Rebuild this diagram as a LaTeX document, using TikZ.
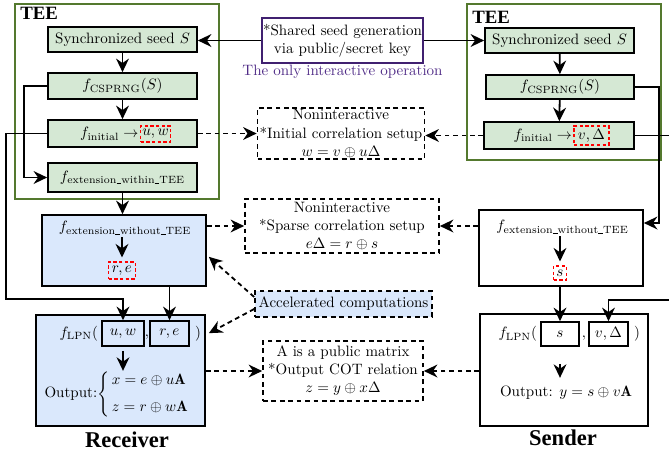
\documentclass[tikz,border=0pt]{standalone}
\usepackage{fontspec}
\newfontfamily\sidefont{Liberation Serif}
\usetikzlibrary{arrows.meta,calc}
\newcommand\pxu{0.665pt}
% short underscore for long subscripts
\newcommand\usc{\rule[-0.2pt]{3.2pt}{0.4pt}}
\definecolor{teegreen}{RGB}{84,121,46}
\definecolor{stepgreen}{HTML}{D5E8D4}
\definecolor{stepblue}{HTML}{DAE8FC}
\definecolor{keypurple}{RGB}{64,32,112}
\definecolor{notepurple}{RGB}{80,44,135}
\tikzset{
  sz/.style 2 args={minimum width=#1*\pxu, minimum height=#2*\pxu},
  base/.style={draw, line width=1.1pt, inner sep=0pt, align=center},
  gbox/.style={base, fill=stepgreen},
  bbox/.style={base, fill=stepblue},
  wbox/.style={base, fill=white},
  notebox/.style={base, dash pattern=on 3.2pt off 2.4pt, fill=white},
  redbox/.style={draw=red, line width=1pt, dash pattern=on 2.2pt off 1.6pt, inner sep=0pt},
  teebox/.style={draw=teegreen, line width=1.2pt},
  arr/.style={-{Stealth[length=9pt,width=8.5pt]}, line width=1.2pt},
  darr/.style={arr, dash pattern=on 3.2pt off 2.4pt},
  plain/.style={inner sep=0pt},
  teelbl/.style={plain, anchor=base west, font=\sidefont\bfseries\fontsize{12.5}{14}\selectfont},
  sidelbl/.style={plain, anchor=base, font=\sidefont\bfseries\fontsize{15}{18}\selectfont},
}
\begin{document}
\begin{tikzpicture}[x=\pxu, y=-\pxu]
\useasboundingbox (0,0) rectangle (669,453);

% trusted execution environments
\draw[teebox] (15,4) rectangle (219,199);
\draw[teebox] (467,4) rectangle (661,160);
\node[teelbl] (teeL) at (20,19) {TEE};
\node[teelbl] (teeR) at (472,23) {TEE};

% receiver side, inside the TEE
\node[gbox, sz={149}{25}] (Lseed) at (122.5,39.5) {Synchronized seed $S$};
\node[gbox, sz={149}{26}] (Lcsp) at (122.5,86) {$f_{\mathrm{CSPRNG}}(S)$};
\node[gbox, sz={149}{27}] (Linit) at (122.5,133.5) {};
\node[redbox, sz={30}{16}] (uwtag) at (155.5,134) {$u,w$};
\node[plain, anchor=east] (Linitlbl) at ($(uwtag.west)+(-1,0)$) {$f_{\mathrm{initial}}\rightarrow$};
\node[gbox, sz={149}{29}] (Lext) at (122.5,177.5) {$f_{\mathrm{extension\usc within\usc TEE}}$};

% sender side, inside the TEE
\node[gbox, sz={149}{25}] (Rseed) at (559.5,40.5) {Synchronized seed $S$};
\node[gbox, sz={148}{24}] (Rcsp) at (560,87) {$f_{\mathrm{CSPRNG}}(S)$};
\node[gbox, sz={150}{27}] (Rinit) at (559,135.5) {};
\node[redbox, sz={35}{19}] (vdtag) at (591.5,135.5) {$v,\Delta$};
\node[plain, anchor=east] (Rinitlbl) at ($(vdtag.west)+(-1,0)$) {$f_{\mathrm{initial}}\rightarrow$};

% shared notes in the middle
\node[base, draw=keypurple, fill=white, sz={161}{45}] (Shared) at (342.5,40.5) {*Shared seed generation\\via public/secret key};
\node[plain, text=notepurple] (Onlyint) at (342.5,72) {The only interactive operation};
\node[notebox, sz={167}{51}] (Init) at (341,133.5) {Noninteractive\\*Initial correlation setup\\$w=v\oplus u\Delta$};
\node[notebox, sz={194}{54}] (Sparse) at (342,226) {Noninteractive\\*Sparse correlation setup\\$e\Delta=r\oplus s$};
\node[notebox, fill=stepblue, sz={177}{26}] (Accel) at (343.5,304) {Accelerated computations};
\node[notebox, sz={160}{60}] (Out) at (343,371) {A is a public matrix\\*Output COT relation\\$z=y\oplus x\Delta$};

% receiver, outside the TEE
\node[bbox, sz={164}{71}] (RxExt) at (124,250.5) {};
\node[plain] (RxExtlbl) at (125,228) {$f_{\mathrm{extension\usc without\usc TEE}}$};
\node[redbox, sz={27}{17}] (retag) at (122,270.5) {$r,e$};
\node[bbox, sz={169}{111}] (RxLPN) at (120.5,370.5) {};
\node[base, sz={42}{25}] (uw) at (123,333.5) {$u,w$};
\node[base, sz={39}{25}] (re) at (169.5,333.5) {$r,e$};
\node[plain, anchor=east] (RxLPNlbl) at ($(uw.west)+(-3,0)$) {$f_{\mathrm{LPN}}($};
\node[plain] (RxComma) at ($(uw.east)!0.5!(re.west)+(0,4)$) {$,$};
\node[plain, anchor=west] (RxClose) at ($(re.east)+(5,0)$) {$)$};
\node[plain] (RxOut) at (117,394) {Output:$\left\{\begin{array}{@{\,}l@{}} x=e\oplus u\mathbf{A}\\[6pt] z=r\oplus w\mathbf{A}\end{array}\right.$};
\node[sidelbl] (RxName) at (127,447) {Receiver};

% sender, outside the TEE
\node[wbox, sz={164}{76}] (SxExt) at (561,248) {};
\node[plain] (SxExtlbl) at (562.5,227) {$f_{\mathrm{extension\usc without\usc TEE}}$};
\node[redbox, sz={13}{14}] (stag) at (560,273) {$s$};
\node[wbox, sz={168}{112}] (SxLPN) at (564,370) {};
\node[base, sz={38}{24}] (sbox) at (560,334) {$s$};
\node[base, sz={39}{24}] (vd) at (608.5,334) {$v,\Delta$};
\node[plain, anchor=east] (SxLPNlbl) at ($(sbox.west)+(-3,0)$) {$f_{\mathrm{LPN}}($};
\node[plain] (SxComma) at ($(sbox.east)!0.5!(vd.west)+(0,4)$) {$,$};
\node[plain, anchor=west] (SxClose) at ($(vd.east)+(5,0)$) {$)$};
\node[plain] (SxOut) at (566,393) {Output: $y=s\oplus v\mathbf{A}$};
\node[sidelbl] (SxName) at (563,445) {Sender};

% bend points of the long wires
\coordinate (jL) at (6,299);
\coordinate (jR) at (659,223);
\coordinate (jR2) at (673,300);

% solid connectors
\draw[arr] (Shared.west) -- (Shared.west -| Lseed.east);
\draw[arr] (Shared.east) -- (Shared.east -| Rseed.west);
\draw[arr] (Lseed) -- (Lcsp);
\draw[arr] (Lcsp) -- (Linit);
\draw[arr] (Rseed) -- (Rcsp);
\draw[arr] (Rcsp) -- (Rinit);
\draw[arr] (Lcsp.west) -- ++(-23,0) |- (Lext.west);
\draw[arr] (Linit.west) -| (jL) -| (uw.north);
\draw[arr] (Lext.south) -- (Lext.south |- RxExt.north);
\draw[arr, shorten <=1.5pt, shorten >=2.5pt] (retag.north |- RxExtlbl.south) -- (retag.north);
\draw[arr] (re.north |- RxExt.south) -- (re.north);
\draw[arr] ($(uw.south)+(0,4)$) -- ($(uw.south)+(0,24)$);
\draw[arr] (Rcsp.east) -| (jR) -- (jR -| SxExt.east);
\draw[arr] (Rinit.east) -| (jR2) -| (vd.north);
\draw[arr, shorten <=1.5pt, shorten >=2.5pt] (stag.north |- SxExtlbl.south) -- (stag.north);
\draw[arr] (sbox.north |- SxExt.south) -- (sbox.north);
\draw[arr] ($(sbox.south)+(0,17)$) -- ($(sbox.south)+(0,31)$);

% dashed connectors
\draw[darr] (Linit.east) -- (Linit.east -| Init.west);
\draw[darr] (Rinit.west) -- (Rinit.west -| Init.east);
\draw[darr] (Sparse.west -| RxExt.east) -- (Sparse.west);
\draw[darr] (Sparse.east -| SxExt.west) -- (Sparse.east);
\draw[darr] ($(Accel.west)+(0,-7)$) -- ($(RxExt.south east)+(2,-30)$);
\draw[darr] ($(Accel.west)+(0,5)$) -- ($(RxLPN.north east)+(3,19)$);
\draw[darr] (Out.west -| RxLPN.east) -- (Out.west);
\draw[darr] (Out.east -| SxLPN.west) -- (Out.east);
\end{tikzpicture}
\end{document}
